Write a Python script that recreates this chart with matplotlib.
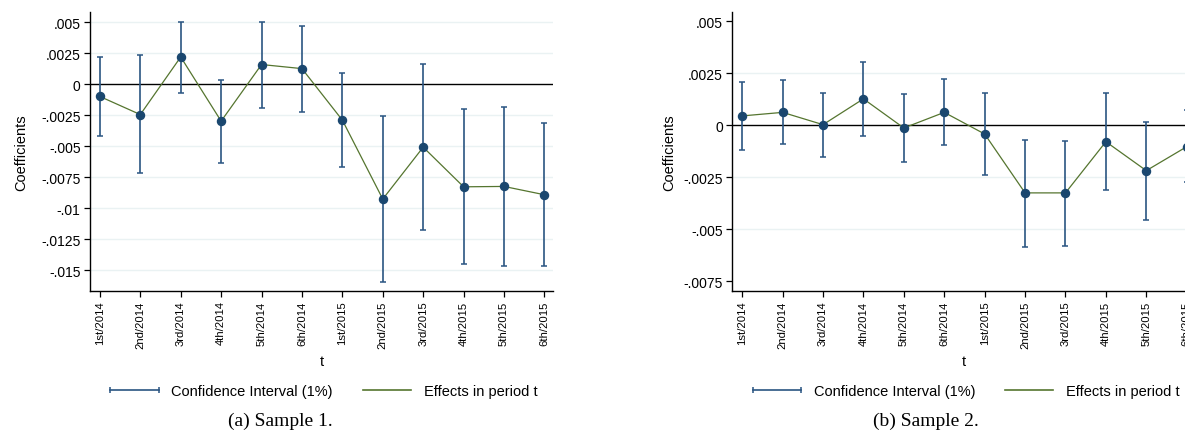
import matplotlib
matplotlib.use("Agg")
import matplotlib.pyplot as plt
from matplotlib.lines import Line2D

periods = ["1st/2014", "2nd/2014", "3rd/2014", "4th/2014", "5th/2014", "6th/2014",
           "1st/2015", "2nd/2015", "3rd/2015", "4th/2015", "5th/2015", "6th/2015"]

coef1 = [-0.00099, -0.00245, 0.00220, -0.00298, 0.00159, 0.00126,
         -0.00290, -0.00927, -0.00508, -0.00828, -0.00825, -0.00892]
hi1 = [0.00220, 0.00237, 0.00505, 0.00038, 0.00505, 0.00473,
       0.00089, -0.00255, 0.00161, -0.00199, -0.00180, -0.00312]
lo1 = [-0.00420, -0.00720, -0.00070, -0.00632, -0.00194, -0.00223,
       -0.00667, -0.01597, -0.01175, -0.01454, -0.01468, -0.01468]

coef2 = [0.00045, 0.00062, 0.00003, 0.00127, -0.00013, 0.00062,
         -0.00042, -0.00325, -0.00325, -0.00079, -0.00218, -0.00103]
hi2 = [0.00210, 0.00219, 0.00157, 0.00303, 0.00150, 0.00221,
       0.00154, -0.00069, -0.00074, 0.00154, 0.00017, 0.00072]
lo2 = [-0.00119, -0.00092, -0.00151, -0.00050, -0.00178, -0.00093,
       -0.00240, -0.00584, -0.00579, -0.00310, -0.00454, -0.00274]

yticks1 = [0.005, 0.0025, 0, -0.0025, -0.005, -0.0075, -0.01, -0.0125, -0.015]
ylabels1 = [".005", ".0025", "0", "-.0025", "-.005", "-.0075", "-.01", "-.0125", "-.015"]
grid1 = [0.005, 0.0025, -0.0025, -0.005, -0.0075, -0.01, -0.0125, -0.015]
yticks2 = [0.005, 0.0025, 0, -0.0025, -0.005, -0.0075]
ylabels2 = [".005", ".0025", "0", "-.0025", "-.005", "-.0075"]
grid2 = [0.0025, -0.0025, -0.005]

NAVY = "#1a476f"
BAR = "#2a5582"
GREEN = "#55752f"
GRID = "#eaf2f3"

plt.rcParams['font.family'] = ['Liberation Sans', 'DejaVu Sans']

W, H = 1185, 431
fig = plt.figure(figsize=(W / 100, H / 100), dpi=100)


def px_axes(l, t, r, b):
    return fig.add_axes([l / W, 1 - b / H, (r - l) / W, (b - t) / H])


def panel(ax, coef, lo, hi, yticks, ylabels, grid, ylim, ylab_x):
    x = list(range(len(periods)))
    for g in grid:
        ax.axhline(g, color=GRID, lw=1.0, zorder=0)
    ax.axhline(0, color="black", lw=1.0, zorder=1)
    yerr = [[c - l for c, l in zip(coef, lo)], [h - c for c, h in zip(coef, hi)]]
    ax.errorbar(x, coef, yerr=yerr, fmt="none", ecolor=BAR, elinewidth=1.2,
                capsize=2.3, capthick=1.1, zorder=2)
    ax.plot(x, coef, color=GREEN, lw=0.9, zorder=3)
    ax.plot(x, coef, "o", color=NAVY, ms=5.8, zorder=4)
    ax.set_xlim(-0.245, 11.22)
    ax.set_ylim(*ylim)
    ax.set_xticks(x)
    ax.set_xticklabels(periods, rotation=90, fontsize=8.1)
    ax.set_yticks(yticks)
    ax.set_yticklabels(ylabels, fontsize=10)
    ax.tick_params(axis="both", length=4.2, width=0.9, pad=2.6, color="black")
    for s in ["top", "right"]:
        ax.spines[s].set_visible(False)
    for s in ["left", "bottom"]:
        ax.spines[s].set_linewidth(1.0)
    ax.set_ylabel("Coefficients", fontsize=10.5)
    ax.yaxis.set_label_coords(ylab_x, 0.5)
    ax.set_xlabel("t", fontsize=10.5)
    ax.xaxis.set_label_coords(0.5, -0.226)


ax1 = px_axes(90, 13, 553.3, 292)
panel(ax1, coef1, lo1, hi1, yticks1, ylabels1, grid1, (-0.01669, 0.00583), -0.134)
ax2 = px_axes(732.3, 13.3, 1195.6, 292.3)
panel(ax2, coef2, lo2, hi2, yticks2, ylabels2, grid2, (-0.00798, 0.00543), -0.121)

handles = [Line2D([], [], color=BAR, lw=1.2, marker="|", ms=5, mew=1.1),
           Line2D([], [], color=GREEN, lw=1.2)]
names = ["Confidence Interval (1%)", "Effects in period t"]
for cx in (321.6, 963.9):
    fig.legend(handles, names, loc="center", bbox_to_anchor=(cx / W, 1 - 391.7 / H),
               ncol=2, frameon=False, fontsize=10.5, numpoints=2, handlelength=3.9,
               handletextpad=0.57, columnspacing=1.76)

fig.text(280 / W, 1 - 421 / H, "(a) Sample 1.", ha="center", va="center",
         fontsize=14, family=["Liberation Serif", "DejaVu Serif"])
fig.text(925.5 / W, 1 - 421 / H, "(b) Sample 2.", ha="center", va="center",
         fontsize=14, family=["Liberation Serif", "DejaVu Serif"])

fig.savefig("out.png", dpi=100)
